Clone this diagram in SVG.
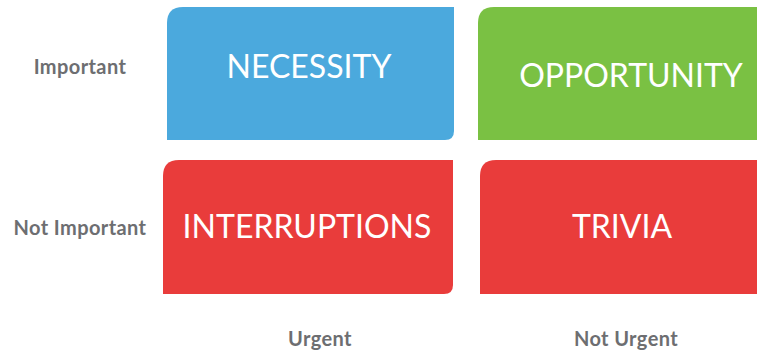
<svg xmlns="http://www.w3.org/2000/svg" width="757" height="353" viewBox="0 0 757 353">
<style>
.box-text{font-family:Lato,"Noto Sans",sans-serif;font-size:32px;fill:#ffffff;text-anchor:middle;}
.axis{font-family:Lato,"Noto Sans",sans-serif;font-size:20px;font-weight:bold;letter-spacing:0.4px;fill:#6d6e71;text-anchor:middle;}
</style>
<rect width="757" height="353" fill="#ffffff"/>
<g id="necessity">
<path d="M183,7 H454 V131 Q454,140 445,140 H167 V23 Q167,7 183,7 Z" fill="#4ba9dd"/>
<text class="box-text" x="309" y="78">NECESSITY</text>
</g>
<g id="opportunity">
<path d="M494,7 H757 V140 H478 V23 Q478,7 494,7 Z" fill="#7ac143"/>
<text class="box-text" x="631" y="87">OPPORTUNITY</text>
</g>
<g id="interruptions">
<path d="M179,160 H453 V285 Q453,294 444,294 H163 V176 Q163,160 179,160 Z" fill="#e93c3b"/>
<text class="box-text" x="307" y="238">INTERRUPTIONS</text>
</g>
<g id="trivia">
<path d="M496,160 H757 V294 H480 V176 Q480,160 496,160 Z" fill="#e93c3b"/>
<text class="box-text" x="622" y="238">TRIVIA</text>
</g>
<g id="labels">
<text class="axis" x="80" y="74">Important</text>
<text class="axis" x="80" y="235">Not Important</text>
<text class="axis" x="320" y="346">Urgent</text>
<text class="axis" x="626" y="346">Not Urgent</text>
</g>
</svg>
